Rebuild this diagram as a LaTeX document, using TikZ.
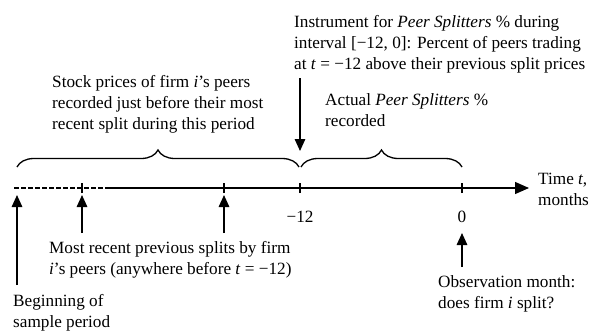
\documentclass[tikz,border=0pt]{standalone}
\usepackage{fontspec}
\setmainfont{Liberation Serif}
\usetikzlibrary{arrows.meta,decorations.pathreplacing}
\begin{document}
\begin{tikzpicture}[x=1pt,y=-1pt,
  txt/.style={anchor=north west,inner sep=0pt,align=left,font=\fontsize{17.2}{21}\selectfont},
  lbl/.style={inner sep=0pt,font=\fontsize{17.2}{21}\selectfont},
  axisline/.style={line width=1.3pt},
  tickmark/.style={line width=1.3pt},
  uparrow/.style={line width=1.4pt,-{Triangle[length=12pt,width=10.5pt]}},
  bracestyle/.style={line width=1.3pt,decorate,decoration={brace,amplitude=17pt,aspect=0.5}}]
\useasboundingbox (0,0) rectangle (590,330);
% axis
\coordinate (a0) at (14,188);
\coordinate (a1) at (108,188);
\coordinate (aend) at (529,188);
\draw[axisline,dash pattern=on 4.5pt off 2.5pt] (a0) -- (a1);
\draw[axisline,-{Triangle[length=14pt,width=12pt]}] (a1) -- (aend);
% ticks
\foreach \n/\x in {t1/82,t2/224,t3/300,t4/462}{
  \coordinate (\n) at (\x,188);
  \draw[tickmark] ([yshift=-5pt]\n) -- ([yshift=5pt]\n);
}
% braces
\coordinate (b1s) at (17,167);
\coordinate (b1e) at (299,167);
\coordinate (b2s) at (301,167);
\coordinate (b2e) at (462,167);
\draw[bracestyle] (b1s) -- (b1e);
\draw[bracestyle] (b2s) -- (b2e);
% labels
\node[txt] (stock) at (52,75) {Stock prices of firm \textit{i}’s peers\\recorded just before their most\\recent split during this period};
\node[txt] (instr) at (294,15) {Instrument for \textit{Peer Splitters} \% during\\interval [−12, 0]: Percent of peers trading\\at \textit{t} = −12 above their previous split prices};
\node[txt] (actual) at (325,93) {Actual \textit{Peer Splitters} \%\\recorded};
\node[txt] (time) at (538,173) {Time \textit{t},\\months};
\node[lbl] (m12) at (300,217) {−12};
\node[lbl] (zero) at (462,217) {0};
\node[txt] (recent) at (49,241) {Most recent previous splits by firm\\\textit{i}’s peers (anywhere before \textit{t} = −12)};
\node[txt] (begin) at (13,294) {Beginning of\\sample period};
\node[txt] (obs) at (438,275) {Observation month:\\does firm \textit{i} split?};
% arrows
\coordinate (dtop) at (300,78);
\coordinate (dtip) at (300,151);
\draw[uparrow] (dtop) -- (dtip);
\coordinate (u1b) at (17,285);
\coordinate (u1t) at (17,195);
\draw[uparrow] (u1b) -- (u1t);
\coordinate (u2b) at (82,233);
\coordinate (u2t) at (82,195);
\draw[uparrow] (u2b) -- (u2t);
\coordinate (u3b) at (224,233);
\coordinate (u3t) at (224,195);
\draw[uparrow] (u3b) -- (u3t);
\coordinate (u4b) at (462,267);
\coordinate (u4t) at (462,233);
\draw[uparrow] (u4b) -- (u4t);
\end{tikzpicture}
\end{document}
